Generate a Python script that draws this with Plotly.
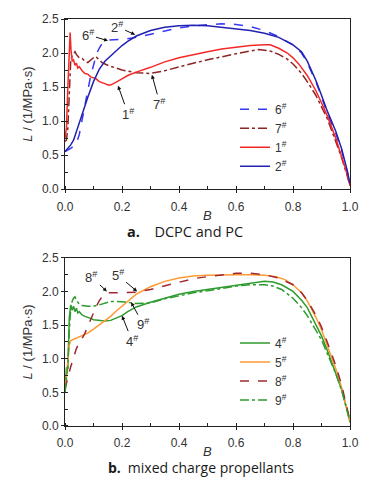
import plotly.graph_objects as go

# ---------------- data: panel a ----------------
B6 = [0, 0.01, 0.02, 0.03, 0.04, 0.05, 0.06, 0.07, 0.08, 0.09, 0.1, 0.11, 0.12, 0.13, 0.15, 0.18, 0.2,
      0.25, 0.3, 0.35, 0.4, 0.45, 0.5, 0.55, 0.6, 0.65, 0.7, 0.75, 0.8, 0.83, 0.85, 0.88, 0.9, 0.92,
      0.95, 0.97, 0.99, 1.0]
L6 = [0.55, 0.57, 0.6, 0.63, 0.68, 0.8, 1.0, 1.22, 1.45, 1.66, 1.84, 1.98, 2.07, 2.14, 2.19, 2.2, 2.2,
      2.23, 2.28, 2.33, 2.37, 2.4, 2.42, 2.43, 2.42, 2.39, 2.33, 2.24, 2.12, 2.0, 1.86, 1.58, 1.36, 1.12,
      0.82, 0.58, 0.26, 0.07]

B7 = [0, 0.005, 0.01, 0.015, 0.02, 0.025, 0.03, 0.035, 0.04, 0.05, 0.06, 0.07, 0.08, 0.09, 0.1, 0.105,
      0.11, 0.12, 0.13, 0.15, 0.17, 0.2, 0.25, 0.3, 0.35, 0.4, 0.45, 0.5, 0.55, 0.6, 0.65, 0.68, 0.72,
      0.75, 0.78, 0.8, 0.83, 0.85, 0.88, 0.9, 0.92, 0.95, 0.97, 0.99, 1.0]
L7 = [0.7, 0.72, 0.9, 1.4, 1.88, 1.96, 2.0, 2.02, 1.98, 1.93, 1.92, 1.88, 1.86, 1.9, 1.94, 1.95,
      1.94, 1.9, 1.86, 1.82, 1.79, 1.75, 1.71, 1.7, 1.74, 1.8, 1.85, 1.9, 1.95, 1.99, 2.03, 2.05, 2.03,
      1.98, 1.91, 1.84, 1.7, 1.58, 1.38, 1.22, 1.04, 0.7, 0.47, 0.2, 0.05]

B1 = [0, 0.005, 0.01, 0.015, 0.018, 0.021, 0.025, 0.03, 0.035, 0.04, 0.045, 0.05, 0.06, 0.07, 0.08,
      0.09, 0.1, 0.11, 0.12, 0.13, 0.14, 0.15, 0.16, 0.17, 0.18, 0.2, 0.22, 0.25, 0.3, 0.35, 0.4, 0.45,
      0.5, 0.55, 0.6, 0.65, 0.7, 0.72, 0.75, 0.78, 0.8, 0.82, 0.85, 0.88, 0.9, 0.92, 0.95, 0.97, 0.99, 1.0]
L1 = [0.75, 0.9, 1.5, 2.1, 2.3, 2.05, 1.88, 1.9, 1.82, 1.85, 1.78, 1.8, 1.74, 1.7, 1.69,
      1.65, 1.63, 1.62, 1.58, 1.57, 1.55, 1.53, 1.53, 1.55, 1.57, 1.62, 1.67, 1.72, 1.79, 1.87, 1.93, 1.98,
      2.02, 2.06, 2.09, 2.11, 2.12, 2.12, 2.07, 2.0, 1.93, 1.84, 1.67, 1.45, 1.27, 1.08, 0.75, 0.5, 0.22, 0.05]

B2 = [0, 0.01, 0.02, 0.03, 0.04, 0.05, 0.06, 0.07, 0.08, 0.1, 0.12, 0.14, 0.16, 0.18, 0.2, 0.22, 0.25,
      0.3, 0.35, 0.4, 0.45, 0.5, 0.55, 0.6, 0.65, 0.7, 0.75, 0.8, 0.83, 0.85, 0.88, 0.9, 0.92, 0.95,
      0.97, 0.99, 1.0]
L2 = [0.55, 0.6, 0.65, 0.72, 0.85, 0.95, 1.08, 1.22, 1.35, 1.58, 1.76, 1.88, 1.96, 2.04, 2.11, 2.17, 2.25,
      2.33, 2.38, 2.4, 2.41, 2.4, 2.38, 2.36, 2.33, 2.29, 2.23, 2.12, 2.02, 1.88, 1.6, 1.38, 1.15, 0.85,
      0.6, 0.28, 0.08]

# ---------------- data: panel b ----------------
B4 = [0, 0.005, 0.01, 0.015, 0.02, 0.025, 0.03, 0.035, 0.04, 0.045, 0.05, 0.06, 0.07, 0.08, 0.09, 0.1,
      0.12, 0.14, 0.16, 0.18, 0.2, 0.22, 0.25, 0.3, 0.35, 0.4, 0.45, 0.5, 0.55, 0.6, 0.65, 0.7, 0.73,
      0.76, 0.8, 0.83, 0.85, 0.88, 0.9, 0.92, 0.95, 0.97, 0.99, 1.0]
L4 = [0.5, 0.87, 0.85, 1.6, 1.8, 1.72, 1.78, 1.7, 1.75, 1.68, 1.7, 1.65, 1.63, 1.62, 1.6, 1.58,
      1.57, 1.56, 1.57, 1.6, 1.64, 1.7, 1.77, 1.84, 1.9, 1.96, 2.0, 2.03, 2.07, 2.1, 2.13, 2.15, 2.14,
      2.1, 2.0, 1.87, 1.76, 1.52, 1.34, 1.13, 0.8, 0.55, 0.24, 0.06]

B5 = [0, 0.01, 0.015, 0.02, 0.03, 0.04, 0.06, 0.08, 0.1, 0.12, 0.14, 0.16, 0.18, 0.2, 0.22, 0.25, 0.3,
      0.35, 0.4, 0.45, 0.5, 0.55, 0.6, 0.65, 0.7, 0.74, 0.77, 0.8, 0.83, 0.85, 0.88, 0.9, 0.92, 0.95,
      0.97, 0.99, 1.0]
L5 = [0.5, 0.95, 1.2, 1.27, 1.29, 1.31, 1.34, 1.38, 1.44, 1.5, 1.56, 1.63, 1.71, 1.78, 1.85, 1.96, 2.07,
      2.15, 2.2, 2.23, 2.24, 2.25, 2.25, 2.25, 2.24, 2.22, 2.18, 2.1, 1.98, 1.86, 1.62, 1.43, 1.2, 0.85,
      0.58, 0.25, 0.06]

B8 = [0, 0.005, 0.01, 0.02, 0.03, 0.04, 0.05, 0.06, 0.07, 0.08, 0.09, 0.1, 0.11, 0.12, 0.13, 0.14, 0.15,
      0.17, 0.2, 0.25, 0.3, 0.35, 0.4, 0.45, 0.5, 0.55, 0.6, 0.65, 0.7, 0.75, 0.8, 0.83, 0.85, 0.88, 0.9,
      0.92, 0.95, 0.97, 0.99, 1.0]
L8 = [0.55, 0.65, 0.72, 0.88, 1.02, 1.15, 1.24, 1.3, 1.38, 1.48, 1.6, 1.7, 1.78, 1.86, 1.92, 1.96, 1.98,
      1.98, 1.98, 1.99, 2.03, 2.08, 2.14, 2.19, 2.22, 2.25, 2.27, 2.27, 2.25, 2.2, 2.1, 1.98, 1.87, 1.65, 1.47,
      1.25, 0.9, 0.62, 0.28, 0.08]

B9 = [0, 0.01, 0.015, 0.02, 0.025, 0.03, 0.035, 0.04, 0.05, 0.06, 0.08, 0.1, 0.12, 0.14, 0.16, 0.18, 0.2,
      0.22, 0.25, 0.28, 0.3, 0.35, 0.4, 0.45, 0.5, 0.55, 0.6, 0.65, 0.7, 0.73, 0.76, 0.8, 0.83, 0.85,
      0.88, 0.9, 0.92, 0.95, 0.97, 0.99, 1.0]
L9 = [0.5, 0.9, 1.4, 1.75, 1.85, 1.9, 1.92, 1.87, 1.81, 1.79, 1.78, 1.78, 1.8, 1.83, 1.85, 1.85, 1.85,
      1.84, 1.82, 1.82, 1.83, 1.89, 1.94, 1.98, 2.01, 2.05, 2.08, 2.1, 2.1, 2.08, 2.03, 1.9, 1.76, 1.64,
      1.43, 1.28, 1.08, 0.78, 0.54, 0.23, 0.06]

X_TICKS = [0.0, 0.2, 0.4, 0.6, 0.8, 1.0]
Y_TICKS = [0.0, 0.5, 1.0, 1.5, 2.0, 2.5]

FONT = "Liberation Sans, Arial, sans-serif"
CAPFONT = "Open Sans, Lato, sans-serif"
TXT = "#333333"

fig = go.Figure()

def add(x, y, name, color, dash, xa, ya, legend):
    fig.add_trace(go.Scatter(x=x, y=y, mode="lines", name=name, xaxis=xa, yaxis=ya,
                             legend=legend, legendgroup=name,
                             line=dict(color=color, dash=dash, width=1.5)))

add(B6, L6, "6<sup>#</sup>", "#3737F5", "dash", "x", "y", "legend")
add(B7, L7, "7<sup>#</sup>", "#8E2323", "dashdot", "x", "y", "legend")
add(B1, L1, "1<sup>#</sup>", "#F52828", "solid", "x", "y", "legend")
add(B2, L2, "2<sup>#</sup>", "#2222B0", "solid", "x", "y", "legend")

add(B4, L4, "4<sup>#</sup>", "#2E9B2E", "solid", "x2", "y2", "legend2")
add(B5, L5, "5<sup>#</sup>", "#FF9A33", "solid", "x2", "y2", "legend2")
add(B8, L8, "8<sup>#</sup>", "#A02830", "dash", "x2", "y2", "legend2")
add(B9, L9, "9<sup>#</sup>", "#2E9B2E", "dashdot", "x2", "y2", "legend2")

def xaxis(anchor):
    return dict(range=[0, 1.0], tickvals=X_TICKS, ticktext=[f"{v:.1f}" for v in X_TICKS],
                showgrid=False, zeroline=False, showline=True, linecolor="#222", linewidth=1,
                mirror=True, ticks="outside", ticklen=3, tickcolor="#222", ticklabelstandoff=3,
                minor=dict(dtick=0.1, ticks="inside", ticklen=3, tickcolor="#222", showgrid=False),
                tickfont=dict(family=FONT, size=12, color=TXT), anchor=anchor)

def yaxis(domain, anchor):
    return dict(range=[0, 2.5], tickvals=Y_TICKS, ticktext=[f"{v:.1f}" for v in Y_TICKS],
                domain=domain, showgrid=False, zeroline=False, showline=True, linecolor="#222",
                linewidth=1, mirror=True, ticks="outside", ticklen=3, tickcolor="#222",
                minor=dict(dtick=0.25, ticks="inside", ticklen=3, tickcolor="#222", showgrid=False),
                tickfont=dict(family=FONT, size=12, color=TXT),
                title=dict(text="<i>L</i> / (1/MPa·s)", font=dict(family=FONT, size=13, color=TXT),
                           standoff=6),
                anchor=anchor)

# plot area spans y 17..426 px (paper 1..0), x 65..350 px (paper 0..1)
H = 409.0
def py(p):
    return (426 - p) / H
def px(p):
    return (p - 65) / 285.0

legend_style = dict(bgcolor="rgba(0,0,0,0)", font=dict(family=FONT, size=12, color=TXT),
                    itemwidth=30, tracegroupgap=8.5, xanchor="left", yanchor="top",
                    traceorder="normal")

fig.update_layout(
    width=390, height=478,
    margin=dict(l=65, r=40, t=17, b=52),
    paper_bgcolor="white", plot_bgcolor="white",
    showlegend=True,
    xaxis=xaxis("y"),
    yaxis=yaxis([py(188), 1.0], "x"),
    xaxis2=xaxis("y2"),
    yaxis2=yaxis([0.0, py(257)], "x2"),
    legend=dict(x=px(235), y=py(93), **legend_style),
    legend2=dict(x=px(235), y=py(328), **legend_style),
)

arrow = dict(showarrow=True, arrowhead=2, arrowsize=0.8, arrowwidth=1, arrowcolor="#111",
             font=dict(family=FONT, size=13, color=TXT))
plain = dict(showarrow=False, xanchor="center", yanchor="middle")
ttl = dict(text="<i>B</i>", font=dict(family=FONT, size=13, color=TXT), **plain)
ann = [
    dict(x=0.151, y=2.18, xref="x", yref="y", text="6<sup>#</sup>", ax=-20, ay=-6, **arrow),
    dict(x=0.246, y=2.27, xref="x", yref="y", text="2<sup>#</sup>", ax=-18, ay=-8, **arrow),
    dict(x=0.186, y=1.52, xref="x", yref="y", text="1<sup>#</sup>", ax=10, ay=28, **arrow),
    dict(x=0.305, y=1.68, xref="x", yref="y", text="7<sup>#</sup>", ax=8, ay=29, **arrow),
    dict(x=0.147, y=2.0, xref="x2", yref="y2", text="8<sup>#</sup>", ax=-15, ay=-14, **arrow),
    dict(x=0.253, y=2.0, xref="x2", yref="y2", text="5<sup>#</sup>", ax=-19, ay=-16, **arrow),
    dict(x=0.2, y=1.64, xref="x2", yref="y2", text="4<sup>#</sup>", ax=10, ay=25, **arrow),
    dict(x=0.232, y=1.84, xref="x2", yref="y2", text="9<sup>#</sup>", ax=12, ay=22, **arrow),
    dict(x=0.5, y=(188 - 214) / 171.0, xref="x domain", yref="y domain", **ttl),
    dict(x=0.5, y=(426 - 452) / 169.0, xref="x2 domain", yref="y2 domain", **ttl),
    dict(x=px(185), y=py(231), xref="paper", yref="paper",
         text="<b>a.</b>\u2003DCPC and PC", font=dict(family=CAPFONT, size=14.5, color="#1a1a1a"),
         **plain),
    dict(x=px(201), y=py(468), xref="paper", yref="paper",
         text="<b>b.</b>\u2002mixed charge propellants",
         font=dict(family=CAPFONT, size=14, color="#1a1a1a"), **plain),
]
fig.update_layout(annotations=ann)

fig.write_html("out.html", config={"displayModeBar": False},
               post_script="document.body.style.margin='0px';")
